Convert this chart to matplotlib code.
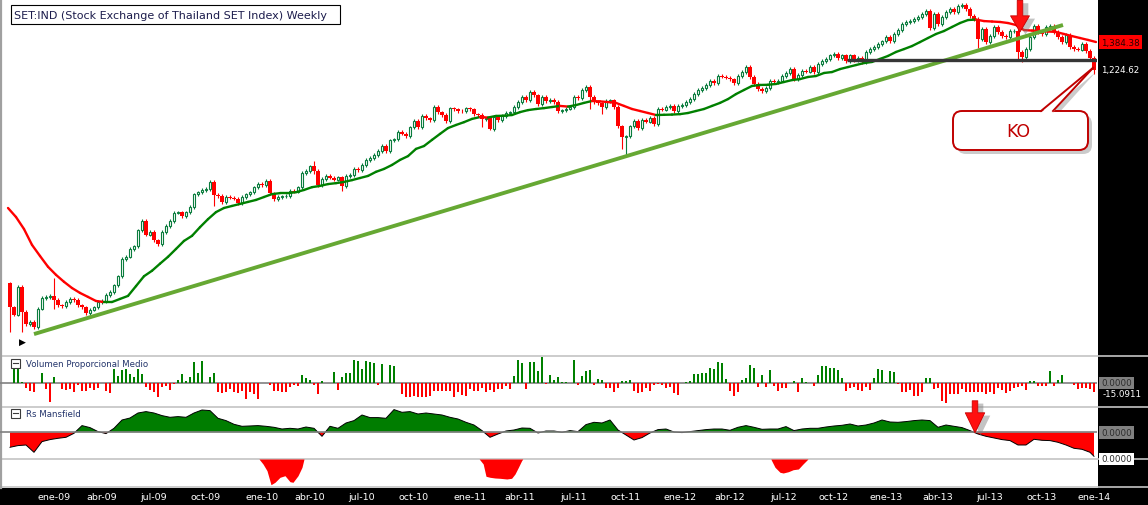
import numpy as np
import matplotlib
matplotlib.use("Agg")
import matplotlib.pyplot as plt
import matplotlib.patheffects as pe
from matplotlib.collections import LineCollection
from matplotlib.patches import FancyBboxPatch, Polygon, Rectangle

W, H = 1148, 506

# ---- data: weekly bars, week 0 = 20-oct-2008, last week = 30-dic-2013 ----
first_open = 479
closes = [
    431, 417, 471, 422, 400, 404, 395, 428, 449, 451,
    453, 445, 435, 433, 441, 447, 445, 435, 431, 420,
    426, 431, 441, 443, 455, 461, 475, 494, 533, 538,
    557, 564, 605, 630, 593, 600, 579, 569, 600, 616,
    630, 653, 655, 644, 655, 670, 709, 715, 722, 725,
    748, 706, 703, 685, 700, 698, 695, 682, 700, 709,
    715, 731, 741, 738, 751, 712, 694, 700, 702, 703,
    719, 716, 731, 778, 785, 802, 785, 738, 758, 768,
    762, 755, 764, 735, 768, 771, 792, 788, 806, 824,
    831, 842, 857, 876, 857, 899, 903, 932, 924, 915,
    952, 978, 952, 1000, 990, 982, 1040, 1017, 1004, 978,
    1035, 1030, 1022, 1020, 1035, 1030, 1008, 1004, 986, 990,
    944, 995, 982, 1000, 1013, 1017, 1040, 1063, 1087, 1073,
    1111, 1096, 1054, 1087, 1068, 1073, 1063, 1022, 1026, 1032,
    1040, 1087, 1080, 1121, 1136, 1087, 1063, 1058, 1040, 1068,
    1072, 1040, 956, 911, 915, 956, 978, 948, 982, 975,
    991, 965, 1031, 1028, 1040, 1045, 1022, 1045, 1049, 1063,
    1077, 1101, 1121, 1131, 1146, 1166, 1156, 1192, 1188, 1184,
    1176, 1156, 1192, 1213, 1240, 1187, 1151, 1126, 1116, 1131,
    1166, 1161, 1168, 1192, 1208, 1229, 1176, 1197, 1219, 1215,
    1240, 1213, 1257, 1273, 1285, 1307, 1313, 1290, 1307, 1273,
    1307, 1279, 1290, 1268, 1325, 1342, 1354, 1372, 1390, 1415,
    1390, 1434, 1459, 1499, 1512, 1518, 1532, 1545, 1566, 1587,
    1472, 1566, 1499, 1545, 1580, 1601, 1580, 1622, 1629, 1601,
    1552, 1532, 1403, 1466, 1384, 1421, 1479, 1447, 1421, 1415,
    1453, 1455, 1325, 1296, 1342, 1415, 1485, 1447, 1434, 1479,
    1485, 1447, 1415, 1384, 1428, 1354, 1342, 1338, 1372, 1331,
    1290, 1224.62,
]
# long shadows that stand out on the chart
wick_low = {0: 386, 3: 386, 11: 428, 51: 673, 76: 775, 83: 719, 118: 952,
            120: 940, 145: 1031, 148: 1008, 153: 865, 154: 842, 242: 1348,
            252: 1273, 253: 1268, 271: 1203}
wick_high = {11: 490, 76: 820}

# 30-week moving average, read every 2 weeks
ma30 = [
    667, 641, 608, 567, 540, 515, 497, 482, 469, 459,
    451, 443, 441, 441, 447, 453, 473, 494, 506, 522,
    538, 557, 577, 590, 613, 635, 655, 667, 673, 679,
    685, 691, 700, 709, 712, 712, 715, 722, 731, 735,
    741, 744, 748, 754, 761, 768, 782, 792, 806, 824,
    838, 865, 876, 900, 924, 948, 961, 973, 987, 995,
    993, 1000, 1001, 1004, 1017, 1026, 1031, 1035, 1040, 1045,
    1042, 1049, 1059, 1068, 1066, 1063, 1059, 1045, 1031, 1022,
    1013, 1004, 1005, 1006, 1008, 1013, 1022, 1031, 1045, 1059,
    1077, 1101, 1121, 1141, 1146, 1147, 1151, 1161, 1171, 1176,
    1187, 1192, 1208, 1213, 1229, 1240, 1251, 1262, 1268, 1285,
    1302, 1325, 1342, 1360, 1384, 1409, 1434, 1453, 1479, 1505,
    1525, 1528, 1518, 1515, 1512, 1505, 1492, 1459, 1456, 1453,
    1450, 1447, 1434, 1421, 1409, 1397, 1384.38,
]

# Volumen Proporcional Medio (one value per week)
vol_prop = [
    0,
    23.8, 23.8, 2.1, -8.6, -12.5, -15.1, 0, 16.2, -9.7, -30.3,
    9.2, 0, -9.7, -10.9, -9.7, -15.1, -3.2, -12.5, -12.5, -8.6,
    -10.9, -8.6, 0, -12.5, -16.2, 22.7, 11.8, 21.5, 22.7, 14.6,
    9.2, 22.7, 14.6, -7.0, -10.9, -15.1, -23.2, -7.0, -4.4, -10.9,
    -2.1, 5.3, 14.6, 3.7, 9.2, 33.5, 16.2, 36.1, 0, 9.2,
    16.2, -15.1, -16.2, -15.1, -9.7, -15.1, -16.2, -12.5, -25.9, -15.1,
    -17.8, -25.9, 0, 0, -3.2, -12.5, -12.5, -15.1, -15.1, -6.0,
    -3.2, -5.3, 13.0, 7.6, 5.3, -3.2, -17.8, 3.7, 0, 0,
    18.3, -10.9, 9.2, 16.2, 16.2, 37.7, 36.1, 22.7, 36.1, 34.5,
    32.4, -2.8, 30.8, 0, 29.2, 27.5, 0, -17.8, -23.2, -23.2,
    -20.6, -22.2, -23.2, -23.2, -21.5, -12.5, -13.4, -12.5, -12.5, -12.5,
    -23.2, -15.1, -19.4, -20.6, -9.7, -12.5, -12.5, -8.6, -14.1, -10.9,
    -14.1, -9.7, -9.7, -4.4, -9.7, 10.9, 37.3, 32.4, -9.7, 33.5,
    33.5, 19.0, 41.6, -2.1, 13.0, 4.9, 9.2, 2.1, 2.1, 0,
    37.3, -3.2, 11.8, 19.4, 20.6, -3.2, 6.5, 4.9, -8.6, -8.6,
    -14.1, -8.6, 3.7, 3.7, 5.3, -12.5, -16.7, -14.1, -8.6, -12.5,
    -3.2, -2.1, -3.2, -7.6, -6.0, -16.2, -19.0, 0, 1.1, 3.2,
    14.6, 14.6, 16.2, 16.2, 23.8, 22.7, 33.5, 32.4, 6.5, -12.5,
    -20.6, -15.1, 4.9, 7.6, 29.2, 23.8, -7.0, 13.0, -7.0, 21.1,
    -5.3, -12.5, -8.6, -7.6, 0, 3.2, -14.1, 7.6, 2.1, 0,
    -4.4, 13.0, 28.0, 28.0, 24.3, 23.8, 21.5, 7.6, -12.5, -8.6,
    -7.0, -10.9, -12.5, -7.0, -10.9, 7.6, 22.7, 21.5, 2.1, 19.9,
    18.3, -1.6, -14.1, -15.1, -10.9, -21.5, -21.5, -14.1, 7.6, 7.6,
    -9.7, -8.6, -28.7, -32.9, -17.8, -17.8, -17.8, -9.7, -15.1, -15.1,
    -15.1, -15.1, -15.1, -17.8, -15.1, -17.8, -8.6, -11.3, -16.2, -12.5,
    -8.6, -7.0, -4.4, -10.9, 2.8, 2.8, -5.3, -5.3, -4.4, 19.9,
    -5.3, 5.3, 13.4, 0, 0, -2.8, -9.7, -8.6, -8.6, -9.7, -15.0911,
]

# Rs Mansfield, read every 2 weeks plus the last week
rs_mansfield = [
    -15, -13.3, -12.7, -20, -9.3, -7.3, -6, -5, -1, 6.7,
    4.7, 0.7, -1.3, 4, 12.3, 14.3, 19.3, 20.7, 19.3, 16.7,
    15, 15.7, 15, 19.3, 22.3, 21.7, 14, 11.7, 8, 6,
    6.3, 6.7, 6, 5, 3.3, 4, 3.3, 5.3, 4, -4,
    6, 4, 9.3, 11.7, 17.3, 14.7, 14.7, 14, 22.7, 20,
    20.7, 18.3, 19.3, 18.3, 17.3, 15, 13.3, 10, 7.3, 1.7,
    -5, -1.7, 1.3, 2.3, 4.3, 4, -0.7, 1.3, 1.3, 0,
    1.7, 0.7, 7.7, 10, 9.3, 12.3, 2.3, -2.7, -7.7, -5.3,
    -0.7, 2.7, 3.3, 0.3, -0.3, 0.7, 1.7, 2.7, 3.3, 3.3,
    2, 5, 6.7, 5, 3, 3.3, 3.3, 5.7, 1.7, 3.3,
    4, 4, 5.3, 6.3, 7, 8.3, 6.3, 7.3, 9.3, 12.3,
    10.3, 10, 10.7, 11.7, 12.3, 11.7, 5, 7.3, 6, 4.7,
    1.7, -1.7, -4, -5.7, -7.3, -8.3, -12.7, -12.7, -7, -8,
    -8.3, -10, -12.7, -16, -17, -20,
    -24,
]

# lower Rs pane: only the negative stretches show
rs_low_weeks = [62.25, 63.25, 64.25, 65.25, 66.25, 67.5, 68.75, 70, 70.75, 72, 73, 73.5,
                117.3, 118.3, 119, 120, 121.25, 122.5, 124.2, 125.4, 126.25, 127.1, 127.9, 128.2,
                190.2, 191.25, 192.5, 193.3, 194.6, 195.8, 197.1, 198.25, 199.5]
rs_low_vals = [0, -5, -11.7, -25.7, -23.3, -18.3, -16.7, -22.7, -23.3, -16.7, -8.3, 0,
               0, -5, -17.3, -18.3, -19, -19.3, -20, -19.3, -15, -8.3, -1.7, 0,
               0, -8.3, -13.3, -14, -12.7, -10.7, -10, -5, 0]

month_weeks = [11, 23, 36, 49, 63, 75, 88, 101, 115, 127.5, 141, 154, 167.5, 180,
               193.5, 206, 219, 232, 245, 258, 271]
month_labels = ["ene-09", "abr-09", "jul-09", "oct-09", "ene-10", "abr-10", "jul-10",
                "oct-10", "ene-11", "abr-11", "jul-11", "oct-11", "ene-12", "abr-12",
                "jul-12", "oct-12", "ene-13", "abr-13", "jul-13", "oct-13", "ene-14"]

support_level = 1279
trend_weeks = [6, 263.25]
trend_prices = [383, 1492]
break_week, break_price = 252.5, 1447     # red arrow on price
rs_cross_week = 241.25                     # red arrow on Rs

GREEN = "#0b7d3e"
RED = "#ff0000"
XLIM = (-2.5, 271.75)


def px_axes(fig, x0, y0, x1, y1):
    ax = fig.add_axes([x0 / W, 1 - y1 / H, (x1 - x0) / W, (y1 - y0) / H])
    ax.set_axis_off()
    return ax


fig = plt.figure(figsize=(W / 100, H / 100), dpi=100)
fig.patch.set_facecolor("white")

# background: black side/bottom bars and pane separators
bg = px_axes(fig, 0, 0, W, H)
bg.set_xlim(0, W)
bg.set_ylim(H, 0)
bg.add_patch(Rectangle((1098, 0), W - 1098, 489, color="black", lw=0))
bg.add_patch(Rectangle((0, 489), W, H - 489, color="black", lw=0))
for yy in (356.5, 407.5, 460, 488):
    bg.plot([0, W], [yy, yy], color="#c4c4c4", lw=1.2)
bg.plot([1, 1], [0, 489], color="#a0a0a0", lw=1.6)

weeks = np.arange(len(closes))
c = np.array(closes, dtype=float)
o = np.r_[first_open, c[:-1]]
up = c >= o
hi = np.maximum(o, c) * 1.007
lo = np.minimum(o, c) * 0.993
for w, v in wick_low.items():
    lo[w] = v
for w, v in wick_high.items():
    hi[w] = v

# ---- price pane ----
ax = px_axes(fig, 0, 0, 1097, 356)
ax.set_yscale("log")
ax.set_ylim(349.3, 1672.8)
ax.set_xlim(*XLIM)

ax.vlines(weeks, lo, hi, colors=np.where(up, GREEN, RED), lw=0.8, zorder=2)
ax.bar(weeks[up], (c - o)[up], bottom=o[up], width=0.62, facecolor="white",
       edgecolor=GREEN, lw=0.8, zorder=3)
ax.bar(weeks[~up], (o - c)[~up], bottom=c[~up], width=0.82, color=RED, lw=0, zorder=3)

ma_w = np.arange(len(ma30)) * 2 - 0.5
pts = np.column_stack([ma_w, ma30])
segs = np.stack([pts[:-1], pts[1:]], axis=1)
seg_cols = [RED if b < a else "#008000" for a, b in zip(ma30[:-1], ma30[1:])]
ax.add_collection(LineCollection(segs, colors=seg_cols, lw=1.7, zorder=4, capstyle="round"))

ax.plot(trend_weeks, trend_prices, color="#66a833", lw=2.8, zorder=5, solid_capstyle="butt")
ax.hlines(support_level, 209.25, XLIM[1], color="#363636", lw=2.4, zorder=5)

shadow = [pe.SimplePatchShadow(offset=(4, -2), shadow_rgbFace="#7a7a7a", alpha=0.45), pe.Normal()]
ax.annotate("", xy=(break_week, break_price), xytext=(break_week, 1662),
            arrowprops=dict(arrowstyle="simple,head_length=0.58,head_width=0.68,tail_width=0.2",
                            mutation_scale=20, fc="#ff1010", ec="#c80000", lw=0.6,
                            shrinkA=0, shrinkB=0, path_effects=shadow),
            annotation_clip=False, zorder=8)

lab = dict(xycoords=("axes fraction", "data"), textcoords="offset points", ha="left",
           va="center", fontsize=6.3, annotation_clip=False)
ax.annotate(f"{ma30[-1]:,.2f}", xy=(1, ma30[-1]), xytext=(3, 0), color="#2a0000",
            bbox=dict(boxstyle="square,pad=0.25", fc=RED, ec="none"), **lab)
ax.annotate(f"{closes[-1]:,.2f}", xy=(1, closes[-1]), xytext=(3, 0), color="white", **lab)

# ---- Volumen Proporcional Medio ----
vax = px_axes(fig, 0, 357, 1097, 407)
vax.set_xlim(*XLIM)
vax.set_ylim(-37.3, 43.7)
vv = np.array(vol_prop)
vax.bar(np.arange(len(vv)), vv, width=0.5, color=np.where(vv > 0, "#008000", RED), lw=0)
vax.axhline(0, color="#808080", lw=1.2, zorder=0)
vax.annotate("0.0000", xy=(1, 0), xytext=(3, 0), color="#2b2b2b",
             bbox=dict(boxstyle="square,pad=0.2", fc="#808080", ec="none"), **lab)
vax.annotate(f"{vol_prop[-1]:.4f}", xy=(1, vol_prop[-1]), xytext=(4, -1), color="white", **lab)

# ---- Rs Mansfield ----
rax = px_axes(fig, 0, 408, 1097, 460)
rax.set_xlim(*XLIM)
rax.set_ylim(-26.7, 25.3)
rs_w = np.r_[np.arange(0, 271, 2), 271]
rs = np.array(rs_mansfield)
rax.fill_between(rs_w, rs, 0, where=rs >= 0, interpolate=True, color="#007d00", lw=0)
rax.fill_between(rs_w, rs, 0, where=rs <= 0, interpolate=True, color=RED, lw=0)
rax.plot(rs_w, rs, color="black", lw=0.7)
rax.axhline(0, color="#808080", lw=1.2)
rax.annotate("0.0000", xy=(1, 0), xytext=(3, 0), color="#2b2b2b",
             bbox=dict(boxstyle="square,pad=0.2", fc="#808080", ec="none"), **lab)
rax.annotate("", xy=(rs_cross_week, -0.5), xytext=(rs_cross_week, 31.5),
             arrowprops=dict(arrowstyle="simple,head_length=0.72,head_width=0.7,tail_width=0.2",
                             mutation_scale=20, fc="#ff1010", ec="#c80000", lw=0.6,
                             shrinkA=0, shrinkB=0, path_effects=shadow),
             annotation_clip=False, zorder=8)

dax = px_axes(fig, 0, 460, 1097, 488)
dax.set_xlim(*XLIM)
dax.set_ylim(-28, 0)
dax.fill_between(rs_low_weeks, rs_low_vals, 0, color=RED, lw=0)
dax.annotate("0.0000", xy=(1, 0), xytext=(3, 0), color="#2b2b2b",
             bbox=dict(boxstyle="square,pad=0.2", fc="white", ec="none"), **lab)

# ---- date strip ----
tax = px_axes(fig, 0, 489, 1097, 506)
tax.set_xlim(*XLIM)
tax.set_ylim(0, 1)
for w, t in zip(month_weeks, month_labels):
    tax.text(w, 0.5, t, color="white", fontsize=6.8, ha="center", va="center")

# ---- annotations layer ----
ov = px_axes(fig, 0, 0, W, H)
ov.set_xlim(0, W)
ov.set_ylim(H, 0)
ov.add_patch(Rectangle((10.5, 5.5), 329, 19, fc="white", ec="black", lw=0.8))
ov.text(14, 15.5, "SET:IND (Stock Exchange of Thailand SET Index) Weekly",
        fontsize=8, color="#1c1c4c", va="center")
for yy, name in ((364, "Volumen Proporcional Medio"), (414, "Rs Mansfield")):
    ov.add_patch(Rectangle((10.5, yy - 4.5), 9, 9, fc="white", ec="#3a3a3a", lw=0.8))
    ov.plot([12.5, 17.5], [yy, yy], color="#3a3a3a", lw=0.8)
    ov.text(26, yy + 0.5, name, fontsize=6.2, color="#23346b", va="center")
ov.text(22, 342, "\u25b6", fontsize=6.5, ha="center", va="center", color="black")

# KO callout pointing to the last bar
tx, ty = ax.transData.transform((weeks[-1], closes[-1]))
tip = (tx - 1, H - ty - 2)
bx, by, bw, bh = 953, 112, 135, 39
ov.add_patch(FancyBboxPatch((bx + 4, by + 4), bw, bh, boxstyle="round,pad=0,rounding_size=9",
                            fc="#8c8c8c", ec="none", alpha=0.45))
ov.add_patch(Polygon([(1044, by + 4), (tip[0] + 3, tip[1] + 4), (1057, by + 4)],
                     fc="#8c8c8c", ec="none", alpha=0.45))
ov.add_patch(FancyBboxPatch((bx, by), bw, bh, boxstyle="round,pad=0,rounding_size=9",
                            fc="white", ec="#c00000", lw=1.4))
ov.add_patch(Polygon([(1041, by + 1.5), tip, (1053, by + 1.5)], fc="white", ec="none"))
ov.plot([1041, tip[0]], [by, tip[1]], color="#c00000", lw=1.4)
ov.plot([1053, tip[0]], [by, tip[1]], color="#c00000", lw=1.4)
ov.text(bx + bw / 2 - 2, by + bh / 2 + 0.5, "KO", fontsize=12.5, color="#c00000",
        ha="center", va="center")

fig.savefig("out.png", dpi=100, facecolor="white")
